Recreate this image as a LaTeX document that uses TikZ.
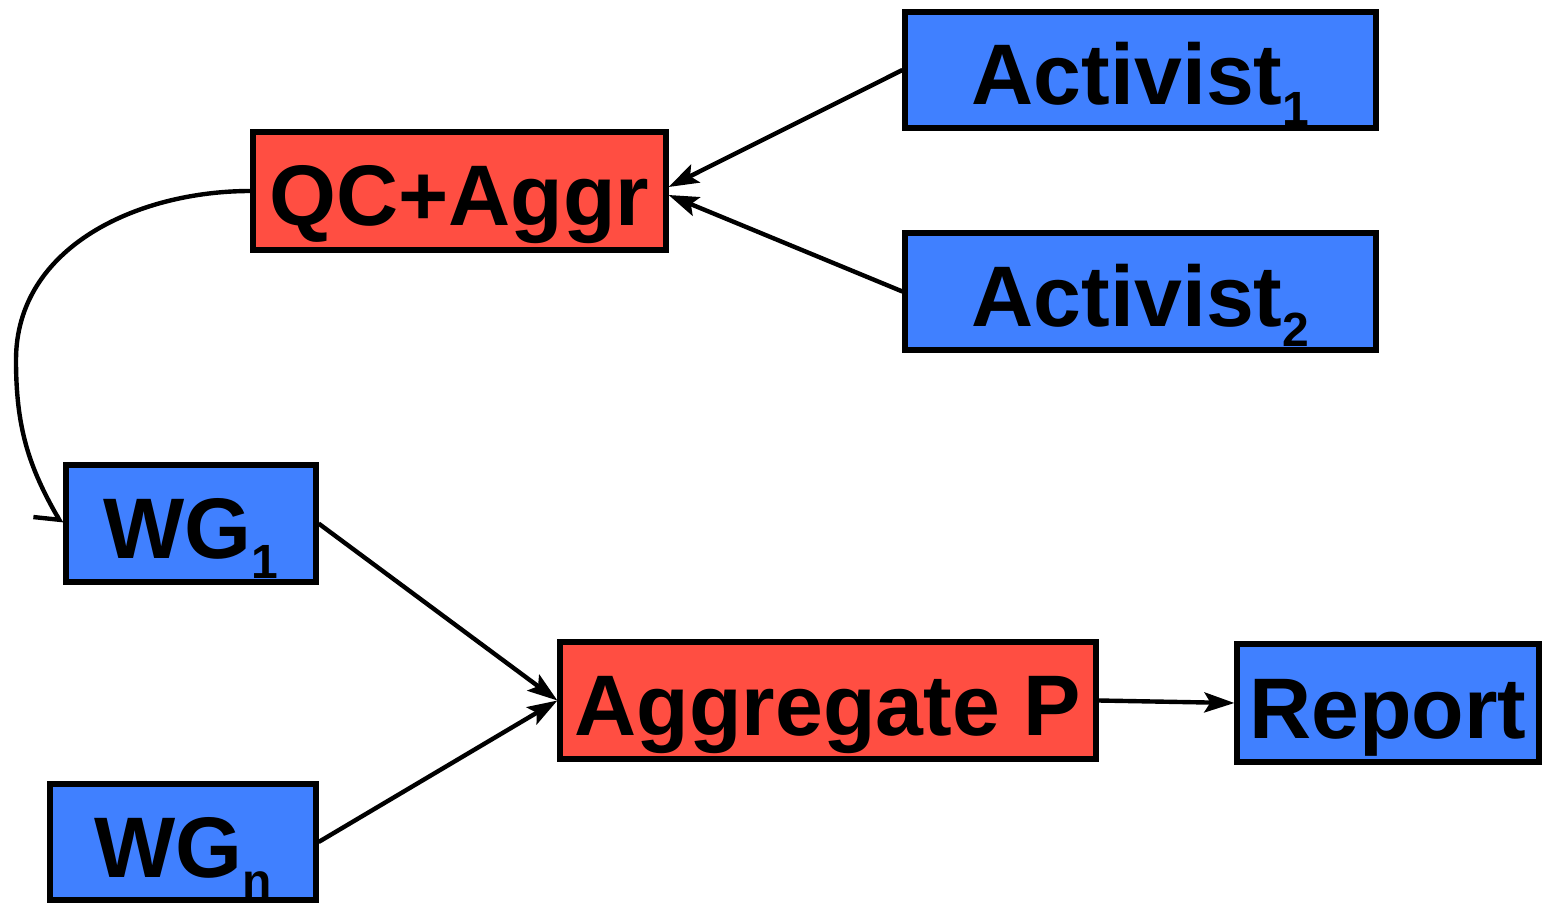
\documentclass[tikz,border=0pt]{standalone}
\usepackage{fontspec}
\setmainfont{Liberation Sans}
\usetikzlibrary{arrows.meta}
\definecolor{boxblue}{RGB}{64,128,255}
\definecolor{boxred}{RGB}{255,78,66}
\newcommand{\lowidx}[1]{\raisebox{-10pt}[0pt][0pt]{\fontsize{24}{24}\selectfont #1}}
\tikzset{
  box/.style={draw=black, line width=2.6pt, inner sep=0pt, text height=35pt, text depth=0pt,
    font=\fontsize{43}{50}\selectfont\bfseries},
  bluebox/.style={box, fill=boxblue},
  redbox/.style={box, fill=boxred},
  link/.style={line width=2.2pt, -{Stealth[length=15pt, width=10pt, inset=3pt]}},
}
\begin{document}
\begin{tikzpicture}[x=0.5pt, y=-0.5pt]
\useasboundingbox (0,0) rectangle (1543,904);
\node[bluebox, minimum width=235.5pt, minimum height=58pt] (act1) at (1140.5,70) {Activist\lowidx{1}};
\node[bluebox, minimum width=235.5pt, minimum height=58.5pt] (act2) at (1140.5,291.5) {Activist\lowidx{2}};
\node[redbox, minimum width=206.5pt, minimum height=59pt] (qc) at (459.5,191) {QC+Aggr};
\node[bluebox, minimum width=125pt, minimum height=58.5pt] (wg1) at (191,523.5) {WG\lowidx{1}};
\node[bluebox, minimum width=133pt, minimum height=58pt] (wgn) at (183,842) {WG\lowidx{n}};
\node[redbox, minimum width=268pt, minimum height=58.5pt] (agg) at (828,700.5) {Aggregate P};
\node[bluebox, minimum width=151pt, minimum height=59pt] (rep) at (1388,703) {Report};

\coordinate (bend) at (16,360);

\draw[link] (act1.west) -- ([yshift=2pt]qc.east);
\draw[link] (act2.west) -- ([yshift=-2pt]qc.east);
\draw[link] (wg1.east) -- (agg.west);
\draw[link] (wgn.east) -- (agg.west);
\draw[link] (agg.east) -- (rep.west);
\draw[line width=2.2pt, line cap=round, -{Straight Barb[right, angle=108:13pt]}]
  (qc.west) to[out=180, in=90] (bend) to[out=-90, in=120] ([xshift=-1pt]wg1.west);
\end{tikzpicture}
\end{document}
